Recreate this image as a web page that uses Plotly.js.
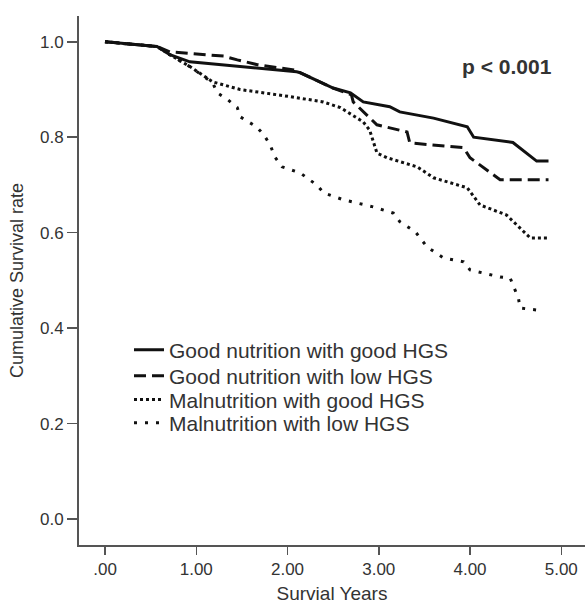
<!DOCTYPE html>
<html>
<head>
<meta charset="utf-8">
<script src="https://cdn.plot.ly/plotly-3.0.1.min.js"></script>
<style>html,body{margin:0;padding:0;background:#fff;}#chart{width:585px;height:605px;}</style>
</head>
<body>
<div id="chart"></div>
<script>
// Series: survival time (years) and cumulative survival rate
var seriesNames = ["Good nutrition with good HGS", "Good nutrition with low HGS", "Malnutrition with good HGS", "Malnutrition with low HGS"];

var goodGoodT = [0, 0.57, 0.71, 0.93, 2.10, 2.14, 2.50, 2.69, 2.83, 3.12, 3.23, 3.60, 3.97, 4.04, 4.47, 4.73, 4.86];
var goodGoodS = [1.0, 0.99, 0.973, 0.958, 0.937, 0.935, 0.903, 0.893, 0.874, 0.864, 0.853, 0.84, 0.822, 0.80, 0.789, 0.75, 0.75];

var goodLowT = [0, 0.57, 0.71, 1.30, 1.45, 1.67, 2.10, 2.14, 2.50, 2.70, 2.72, 2.98, 3.31, 3.34, 3.93, 4.00, 4.33, 4.86];
var goodLowS = [1.0, 0.99, 0.979, 0.97, 0.962, 0.952, 0.94, 0.935, 0.903, 0.889, 0.874, 0.826, 0.811, 0.788, 0.778, 0.757, 0.711, 0.711];

var malGoodT = [0, 0.57, 0.71, 0.93, 1.18, 1.48, 2.03, 2.39, 2.58, 2.83, 2.90, 2.98, 3.09, 3.42, 3.60, 3.97, 4.11, 4.40, 4.66, 4.86];
var malGoodS = [1.0, 0.99, 0.973, 0.948, 0.916, 0.90, 0.885, 0.874, 0.862, 0.832, 0.815, 0.767, 0.757, 0.738, 0.715, 0.694, 0.658, 0.637, 0.589, 0.589];

var malLowT = [0, 0.57, 0.71, 0.93, 1.18, 1.23, 1.35, 1.45, 1.48, 1.66, 1.74, 1.81, 1.86, 1.94, 2.14, 2.32, 2.40, 2.61, 2.94, 3.16, 3.23, 3.40, 3.53, 3.71, 3.93, 4.00, 4.33, 4.44, 4.48, 4.53, 4.55, 4.73];
var malLowS = [1.0, 0.99, 0.973, 0.948, 0.914, 0.893, 0.878, 0.862, 0.843, 0.822, 0.805, 0.784, 0.759, 0.738, 0.725, 0.70, 0.683, 0.669, 0.654, 0.641, 0.623, 0.602, 0.57, 0.547, 0.539, 0.522, 0.507, 0.505, 0.486, 0.463, 0.442, 0.438];

var xTickVals = [0, 1, 2, 3, 4, 5];
var xTickText = [".00", "1.00", "2.00", "3.00", "4.00", "5.00"];
var yTickVals = [0, 0.2, 0.4, 0.6, 0.8, 1.0];
var yTickText = ["0.0", "0.2", "0.4", "0.6", "0.8", "1.0"];

var pText = "p < 0.001";

var font = "Liberation Sans, Arial, sans-serif";
var ink = "#111111";
var txt = "#333333";

var traces = [
  {x: goodGoodT, y: goodGoodS, name: seriesNames[0], legend: "legend", line: {color: ink, width: 3, dash: "solid"}},
  {x: goodLowT, y: goodLowS, name: seriesNames[1], legend: "legend2", line: {color: ink, width: 3, dash: "12px,6px"}},
  {x: malGoodT, y: malGoodS, name: seriesNames[2], legend: "legend3", line: {color: ink, width: 3, dash: "3px,3px"}},
  {x: malLowT, y: malLowS, name: seriesNames[3], legend: "legend4", line: {color: ink, width: 3, dash: "3px,8px"}}
].map(function(t){ t.type = "scatter"; t.mode = "lines"; t.hoverinfo = "skip"; return t; });

function leg(y) {
  return {
    x: 0.0988, xanchor: "left", y: y, yanchor: "top",
    font: {family: font, size: 21, color: txt},
    bgcolor: "rgba(0,0,0,0)", borderwidth: 0
  };
}

var layout = {
  width: 585, height: 605,
  margin: {l: 79, r: 0, t: 16, b: 60},
  paper_bgcolor: "#ffffff", plot_bgcolor: "#ffffff",
  font: {family: font, color: txt},
  showlegend: true,
  legend: leg(0.407),
  legend2: leg(0.358),
  legend3: leg(0.313),
  legend4: leg(0.269),
  xaxis: {
    range: [-0.285, 5.26],
    tickvals: xTickVals, ticktext: xTickText,
    ticks: "outside", ticklen: 8, tickwidth: 1.5, tickcolor: "#555555",
    showline: true, linecolor: "#555555", linewidth: 2,
    showgrid: false, zeroline: false,
    tickfont: {family: font, size: 17, color: txt},
    title: {text: "Survial Years", font: {family: font, size: 19, color: txt}, standoff: 8}
  },
  yaxis: {
    range: [-0.0545, 1.054],
    tickvals: yTickVals, ticktext: yTickText,
    ticks: "outside", ticklen: 10, tickwidth: 1.5, tickcolor: "#555555",
    showline: true, linecolor: "#555555", linewidth: 2,
    showgrid: false, zeroline: false,
    tickfont: {family: font, size: 17, color: txt},
    title: {text: "Cumulative Survival rate", font: {family: font, size: 18, color: txt}, standoff: 12}
  },
  annotations: [{
    text: "<b>" + pText + "</b>", xref: "paper", yref: "paper",
    x: 0.846, y: 0.904, xanchor: "center", yanchor: "middle", showarrow: false,
    font: {family: font, size: 21, color: txt}
  }]
};

Plotly.newPlot("chart", traces, layout, {staticPlot: true, displayModeBar: false});
</script>
</body>
</html>
